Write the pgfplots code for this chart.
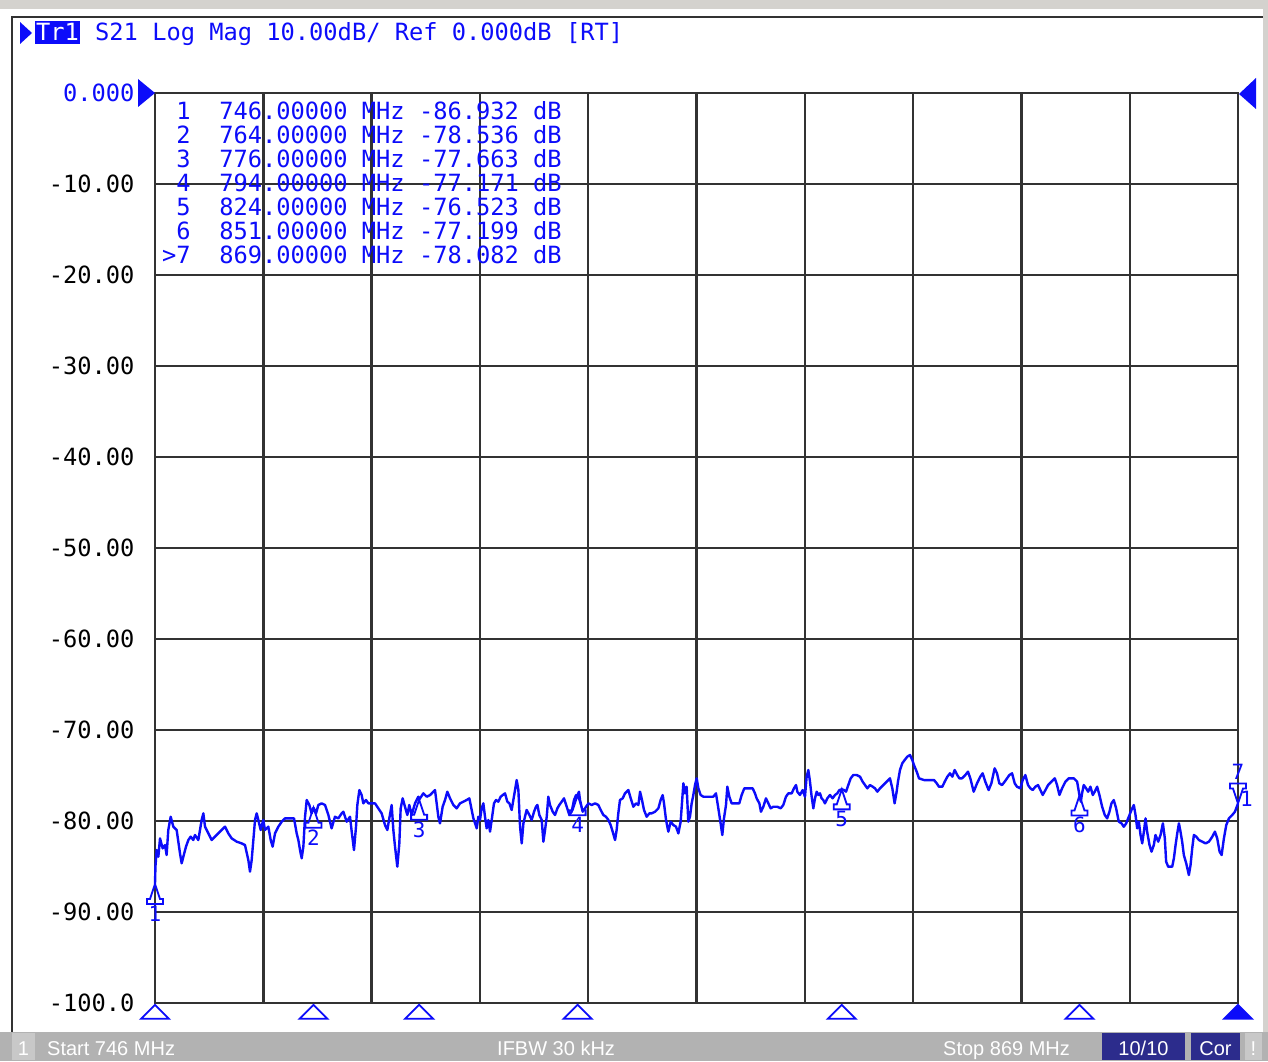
\documentclass[border=0pt]{standalone}
\usepackage{pgfplots}
\pgfplotsset{compat=1.18}
\usepackage{fontspec}
\setmainfont{Liberation Sans}
\newfontfamily\monofont{DejaVu Sans Mono}
\definecolor{trblue}{RGB}{12,12,250}
\definecolor{gridc}{RGB}{50,50,50}
\definecolor{barc}{RGB}{178,178,178}
\definecolor{barlight}{RGB}{200,200,200}
\definecolor{navy}{RGB}{44,44,140}
\definecolor{topgray}{RGB}{212,210,206}
\newcommand{\mfont}{\monofont\fontsize{23.7}{24}\selectfont}
\pgfdeclareplotmark{mkup}{%
  \pgfpathmoveto{\pgfqpoint{0pt}{0pt}}%
  \pgfpathlineto{\pgfqpoint{-5pt}{-15pt}}%
  \pgfpathlineto{\pgfqpoint{-8pt}{-15pt}}%
  \pgfpathlineto{\pgfqpoint{-8pt}{-20pt}}%
  \pgfpathlineto{\pgfqpoint{8pt}{-20pt}}%
  \pgfpathlineto{\pgfqpoint{8pt}{-15pt}}%
  \pgfpathlineto{\pgfqpoint{5pt}{-15pt}}%
  \pgfpathclose
  \pgfusepathqstroke}
\pgfdeclareplotmark{mkdown}{%
  \pgfpathmoveto{\pgfqpoint{0pt}{0pt}}%
  \pgfpathlineto{\pgfqpoint{-5pt}{15pt}}%
  \pgfpathlineto{\pgfqpoint{-8pt}{15pt}}%
  \pgfpathlineto{\pgfqpoint{-8pt}{20pt}}%
  \pgfpathlineto{\pgfqpoint{8pt}{20pt}}%
  \pgfpathlineto{\pgfqpoint{8pt}{15pt}}%
  \pgfpathlineto{\pgfqpoint{5pt}{15pt}}%
  \pgfpathclose
  \pgfusepathqstroke}
\pgfdeclareplotmark{stim}{%
  \pgfpathmoveto{\pgfqpoint{0pt}{0pt}}%
  \pgfpathlineto{\pgfqpoint{-14pt}{-14pt}}%
  \pgfpathlineto{\pgfqpoint{14pt}{-14pt}}%
  \pgfpathclose
  \pgfusepathqfillstroke}
\begin{document}
\begin{tikzpicture}
\useasboundingbox (0,0) rectangle (1268pt,1061pt);
\fill[white] (0,0) rectangle (1268pt,1061pt);
\fill[topgray] (0,1052pt) rectangle (1268pt,1061pt);
\fill[topgray] (1263pt,29pt) rectangle (1268pt,1061pt);
\draw[gridc, line width=2.5pt] (12pt,29pt) -- (12pt,1044pt) -- (1263pt,1044pt);
% status bar
\fill[barc] (0,0) rectangle (1268pt,29pt);
\fill[barlight] (12pt,1pt) rectangle (35pt,28pt);
\node[anchor=base, text=white, font=\fontsize{20}{20}\selectfont, inner sep=0pt] at (23.5pt,6pt) {1};
\node[anchor=base west, text=white, font=\fontsize{20}{20}\selectfont, inner sep=0pt] at (47pt,6pt) {Start 746 MHz};
\node[anchor=base west, text=white, font=\fontsize{20}{20}\selectfont, inner sep=0pt] at (497pt,6pt) {IFBW 30 kHz};
\node[anchor=base west, text=white, font=\fontsize{20}{20}\selectfont, inner sep=0pt] at (943pt,6pt) {Stop 869 MHz};
\fill[navy] (1102pt,1pt) rectangle (1185pt,28pt);
\node[anchor=base, text=white, font=\fontsize{20}{20}\selectfont, inner sep=0pt] at (1143.5pt,6pt) {10/10};
\fill[navy] (1191pt,1pt) rectangle (1240pt,28pt);
\node[anchor=base, text=white, font=\fontsize{20}{20}\selectfont, inner sep=0pt] at (1215.5pt,6pt) {Cor};
\fill[barlight] (1245pt,1pt) rectangle (1262pt,28pt);
\node[anchor=base, text=white, font=\fontsize{20}{20}\selectfont, inner sep=0pt] at (1253.5pt,6pt) {!};
% header
\fill[trblue] (20pt,1039pt) -- (20pt,1017pt) -- (32pt,1028pt) -- cycle;
\fill[trblue] (35pt,1017pt) rectangle (80pt,1040pt);
\node[anchor=base, text=white, font=\mfont, inner sep=0pt] at (57.5pt,1020pt) {Tr1};
\node[anchor=base west, text=trblue, font=\mfont, inner sep=0pt] at (95pt,1020pt) {S21 Log Mag 10.00dB/ Ref 0.000dB [RT]};

\begin{axis}[
  at={(155pt,58pt)}, anchor=south west,
  scale only axis, width=1083pt, height=910pt,
  xmin=746, xmax=869, ymin=-100, ymax=0,
  xtick={746,758.3,770.6,782.9,795.2,807.5,819.8,832.1,844.4,856.7,869},
  xticklabels={,,,,,,,,,,},
  ytick={-100,-90,-80,-70,-60,-50,-40,-30,-20,-10,0},
  yticklabels={-100.0,-90.00,-80.00,-70.00,-60.00,-50.00,-40.00,-30.00,-20.00,-10.00,\textcolor{trblue}{0.000}},
  yticklabel style={font=\mfont, text=black, anchor=east, xshift=-17pt},
  grid=major,
  major grid style={draw=gridc, line width=2.4pt},
  axis line style={draw=gridc, line width=2.4pt},
  tick style={draw=none},
  clip=false,
]
\addplot[trblue, line width=2.4pt, mark=none, line join=round] table[row sep=\\] {
x y \\
746.00 -86.93 \\ 746.05 -85.00 \\ 746.19 -83.19 \\ 746.38 -83.92 \\ 746.57 -81.91 \\
746.87 -83.01 \\ 747.14 -82.64 \\ 747.32 -83.74 \\ 747.51 -80.99 \\ 747.78 -79.53 \\
748.08 -80.62 \\ 748.46 -80.99 \\ 748.84 -83.56 \\ 749.03 -84.65 \\ 749.22 -83.92 \\
749.52 -82.82 \\ 749.79 -82.09 \\ 750.05 -81.72 \\ 750.35 -82.09 \\ 750.54 -81.54 \\
750.92 -82.09 \\ 751.30 -79.89 \\ 751.49 -79.16 \\ 751.68 -80.62 \\ 752.06 -81.36 \\
752.44 -82.09 \\ 752.81 -81.72 \\ 753.38 -81.17 \\ 753.95 -80.62 \\ 754.33 -81.36 \\
754.71 -81.91 \\ 755.28 -82.27 \\ 755.84 -82.46 \\ 756.22 -82.64 \\ 756.60 -84.29 \\
756.79 -85.57 \\ 756.98 -84.29 \\ 757.36 -79.89 \\ 757.55 -79.16 \\ 757.74 -79.89 \\
758.00 -80.99 \\ 758.30 -79.89 \\ 758.49 -80.99 \\ 758.87 -80.62 \\ 759.14 -82.09 \\
759.36 -82.82 \\ 759.63 -81.36 \\ 760.01 -80.62 \\ 760.39 -80.08 \\ 760.76 -79.71 \\
761.33 -79.71 \\ 761.79 -79.71 \\ 762.09 -81.36 \\ 762.28 -82.09 \\ 762.47 -83.19 \\
762.66 -84.10 \\ 762.85 -82.82 \\ 763.04 -79.53 \\ 763.23 -77.69 \\ 763.53 -78.24 \\
763.79 -79.16 \\ 764.00 -78.54 \\ 764.29 -79.16 \\ 764.55 -78.24 \\ 764.93 -78.06 \\
765.31 -78.24 \\ 765.69 -79.34 \\ 766.06 -80.81 \\ 766.44 -79.53 \\ 766.82 -79.71 \\
767.20 -79.16 \\ 767.39 -78.98 \\ 767.77 -80.08 \\ 768.15 -79.53 \\ 768.34 -81.17 \\
768.60 -83.19 \\ 768.83 -80.62 \\ 768.98 -78.24 \\ 769.21 -76.60 \\ 769.47 -77.15 \\
769.66 -78.06 \\ 769.96 -77.69 \\ 770.23 -78.06 \\ 770.61 -78.06 \\ 770.99 -78.06 \\
771.36 -78.61 \\ 771.74 -79.16 \\ 772.12 -80.44 \\ 772.39 -80.99 \\ 772.61 -79.71 \\
772.88 -78.24 \\ 773.07 -80.99 \\ 773.26 -82.82 \\ 773.52 -85.02 \\ 773.75 -82.46 \\
773.90 -78.61 \\ 774.13 -77.51 \\ 774.39 -78.43 \\ 774.66 -79.34 \\ 774.88 -78.24 \\
775.15 -79.34 \\ 775.53 -78.06 \\ 775.91 -77.33 \\ 776.00 -77.66 \\ 776.48 -76.96 \\
776.86 -77.33 \\ 777.24 -77.15 \\ 777.61 -76.78 \\ 777.80 -76.60 \\ 777.99 -78.06 \\
778.18 -79.53 \\ 778.37 -80.26 \\ 778.67 -78.43 \\ 778.94 -77.69 \\ 779.20 -76.78 \\
779.51 -77.51 \\ 779.89 -78.24 \\ 780.26 -78.61 \\ 780.64 -78.06 \\ 781.02 -77.88 \\
781.40 -77.69 \\ 781.70 -77.51 \\ 781.97 -78.79 \\ 782.16 -79.71 \\ 782.35 -80.26 \\
782.54 -80.81 \\ 782.72 -79.53 \\ 782.91 -79.89 \\ 783.10 -78.61 \\ 783.29 -78.06 \\
783.48 -79.53 \\ 783.67 -80.81 \\ 783.86 -79.89 \\ 784.05 -81.17 \\ 784.24 -79.89 \\
784.50 -78.06 \\ 784.73 -77.69 \\ 784.99 -77.88 \\ 785.26 -77.33 \\ 785.49 -77.15 \\
785.75 -76.96 \\ 786.02 -77.88 \\ 786.25 -78.06 \\ 786.51 -78.79 \\ 786.70 -77.69 \\
786.89 -76.60 \\ 787.08 -75.50 \\ 787.27 -76.60 \\ 787.46 -80.62 \\ 787.65 -82.46 \\
787.84 -80.26 \\ 788.02 -79.53 \\ 788.21 -78.79 \\ 788.52 -79.34 \\ 788.78 -79.89 \\
789.05 -78.98 \\ 789.27 -78.43 \\ 789.43 -78.24 \\ 789.65 -79.34 \\ 789.92 -79.89 \\
790.11 -82.27 \\ 790.30 -80.99 \\ 790.49 -79.53 \\ 790.67 -77.33 \\ 790.86 -78.24 \\
791.17 -78.98 \\ 791.43 -79.34 \\ 791.70 -78.61 \\ 791.92 -78.24 \\ 792.19 -77.88 \\
792.45 -77.51 \\ 792.76 -78.43 \\ 793.06 -79.34 \\ 793.32 -78.98 \\ 793.59 -77.69 \\
793.82 -77.15 \\ 794.00 -77.17 \\ 794.15 -76.78 \\ 794.27 -77.69 \\ 794.57 -78.98 \\
794.84 -78.61 \\ 795.22 -78.06 \\ 795.60 -78.24 \\ 795.98 -78.06 \\ 796.35 -78.24 \\
796.62 -78.79 \\ 796.92 -79.34 \\ 797.22 -79.53 \\ 797.49 -79.89 \\ 797.75 -80.44 \\
797.98 -81.17 \\ 798.25 -82.09 \\ 798.43 -80.99 \\ 798.62 -79.16 \\ 798.81 -77.69 \\
799.12 -77.51 \\ 799.38 -76.96 \\ 799.76 -76.60 \\ 800.03 -77.51 \\ 800.33 -78.43 \\
800.63 -78.06 \\ 800.90 -78.24 \\ 801.09 -76.78 \\ 801.27 -77.51 \\ 801.54 -78.79 \\
801.84 -79.53 \\ 802.15 -79.16 \\ 802.41 -79.16 \\ 802.79 -78.98 \\ 803.17 -78.61 \\
803.43 -77.69 \\ 803.66 -77.15 \\ 803.81 -78.06 \\ 804.04 -79.89 \\ 804.30 -81.17 \\
804.57 -80.08 \\ 804.87 -80.44 \\ 805.17 -80.62 \\ 805.44 -81.36 \\ 805.70 -80.08 \\
806.01 -75.86 \\ 806.20 -76.96 \\ 806.38 -76.23 \\ 806.57 -80.08 \\ 806.76 -79.53 \\
806.95 -78.06 \\ 807.14 -77.14 \\ 807.33 -76.05 \\ 807.52 -75.31 \\ 807.71 -76.41 \\
807.97 -77.14 \\ 808.27 -77.33 \\ 808.84 -77.33 \\ 809.41 -77.33 \\ 809.71 -76.96 \\
809.98 -78.61 \\ 810.24 -80.26 \\ 810.43 -81.54 \\ 810.62 -79.71 \\ 810.85 -78.24 \\
811.00 -76.23 \\ 811.23 -77.33 \\ 811.49 -78.06 \\ 811.87 -78.06 \\ 812.36 -78.06 \\
812.63 -77.14 \\ 812.93 -76.41 \\ 813.38 -76.41 \\ 813.88 -76.41 \\ 814.14 -76.96 \\
814.33 -77.51 \\ 814.64 -78.06 \\ 814.82 -78.98 \\ 815.09 -78.43 \\ 815.39 -77.51 \\
815.66 -78.06 \\ 815.92 -78.61 \\ 816.22 -78.43 \\ 816.68 -78.43 \\ 817.06 -78.61 \\
817.36 -78.24 \\ 817.66 -77.33 \\ 817.93 -76.96 \\ 818.31 -76.96 \\ 818.57 -76.41 \\
818.80 -76.05 \\ 818.95 -76.78 \\ 819.25 -77.14 \\ 819.56 -76.60 \\ 819.82 -77.33 \\
820.01 -75.13 \\ 820.20 -74.40 \\ 820.39 -75.68 \\ 820.58 -77.33 \\ 820.77 -78.61 \\
820.96 -77.51 \\ 821.15 -76.78 \\ 821.33 -77.14 \\ 821.52 -76.96 \\ 821.71 -77.51 \\
821.90 -77.70 \\ 822.09 -78.06 \\ 822.36 -77.51 \\ 822.66 -77.14 \\ 822.96 -77.51 \\
823.23 -77.14 \\ 823.49 -76.96 \\ 823.72 -76.60 \\ 824.00 -76.52 \\ 824.25 -76.60 \\
824.48 -76.78 \\ 824.74 -76.05 \\ 825.01 -75.31 \\ 825.31 -74.95 \\ 825.69 -74.95 \\
826.07 -75.13 \\ 826.37 -75.68 \\ 826.64 -76.05 \\ 826.90 -76.41 \\ 827.20 -76.05 \\
827.51 -76.23 \\ 827.77 -76.41 \\ 828.04 -76.78 \\ 828.34 -76.41 \\ 828.72 -76.05 \\
829.10 -75.68 \\ 829.47 -75.31 \\ 829.74 -76.41 \\ 830.00 -78.06 \\ 830.23 -76.78 \\
830.38 -75.68 \\ 830.61 -74.40 \\ 830.87 -73.66 \\ 831.14 -73.30 \\ 831.44 -72.93 \\
831.75 -72.75 \\ 832.01 -73.30 \\ 832.20 -73.85 \\ 832.51 -74.58 \\ 832.77 -75.31 \\
833.34 -75.50 \\ 833.91 -75.50 \\ 834.48 -75.50 \\ 834.78 -75.86 \\ 835.04 -76.23 \\
835.42 -76.23 \\ 835.69 -75.68 \\ 835.99 -75.13 \\ 836.29 -74.76 \\ 836.56 -75.13 \\
836.82 -74.40 \\ 837.12 -74.95 \\ 837.35 -75.31 \\ 837.65 -75.31 \\ 838.03 -74.95 \\
838.33 -74.58 \\ 838.60 -75.31 \\ 838.98 -76.78 \\ 839.36 -75.86 \\ 839.73 -75.13 \\
840.00 -74.76 \\ 840.30 -75.68 \\ 840.68 -76.60 \\ 840.99 -75.86 \\ 841.36 -74.21 \\
841.63 -74.76 \\ 841.89 -75.86 \\ 842.20 -76.05 \\ 842.50 -75.68 \\ 842.77 -75.31 \\
843.03 -74.95 \\ 843.34 -74.76 \\ 843.64 -75.86 \\ 843.90 -76.23 \\ 844.28 -76.41 \\
844.55 -75.50 \\ 844.85 -74.95 \\ 845.15 -76.05 \\ 845.42 -76.41 \\ 845.68 -76.60 \\
845.99 -76.23 \\ 846.29 -76.05 \\ 846.56 -76.60 \\ 846.82 -77.14 \\ 847.13 -76.60 \\
847.43 -76.05 \\ 847.81 -75.68 \\ 848.19 -75.31 \\ 848.45 -76.05 \\ 848.72 -77.14 \\
849.02 -76.41 \\ 849.40 -75.68 \\ 849.78 -75.31 \\ 850.35 -75.31 \\ 850.73 -75.68 \\
851.00 -77.20 \\ 851.15 -77.88 \\ 851.29 -76.96 \\ 851.48 -76.05 \\ 851.75 -76.41 \\
851.98 -76.78 \\ 852.24 -76.23 \\ 852.51 -77.14 \\ 852.73 -76.78 \\ 853.00 -76.23 \\
853.26 -77.14 \\ 853.57 -78.43 \\ 853.87 -79.34 \\ 854.14 -79.71 \\ 854.40 -78.98 \\
854.63 -78.06 \\ 854.89 -77.70 \\ 855.16 -78.61 \\ 855.46 -80.07 \\ 855.77 -80.26 \\
856.03 -80.63 \\ 856.30 -80.26 \\ 856.60 -79.53 \\ 856.90 -78.79 \\ 857.17 -78.24 \\
857.36 -79.34 \\ 857.55 -80.81 \\ 857.74 -80.07 \\ 857.93 -81.54 \\ 858.12 -82.46 \\
858.31 -81.17 \\ 858.50 -79.71 \\ 858.68 -81.17 \\ 858.95 -82.64 \\ 859.18 -83.37 \\
859.44 -82.64 \\ 859.63 -81.54 \\ 859.94 -82.27 \\ 860.20 -81.54 \\ 860.47 -80.26 \\
860.69 -81.91 \\ 860.84 -84.47 \\ 861.07 -85.02 \\ 861.34 -85.02 \\ 861.53 -85.02 \\
861.72 -84.10 \\ 861.91 -82.64 \\ 862.10 -81.36 \\ 862.29 -80.26 \\ 862.47 -81.17 \\
862.66 -82.27 \\ 862.85 -83.74 \\ 863.12 -84.65 \\ 863.42 -85.94 \\ 863.61 -84.84 \\
863.80 -83.01 \\ 863.99 -81.54 \\ 864.26 -81.72 \\ 864.56 -82.09 \\ 864.94 -82.27 \\
865.32 -82.46 \\ 865.70 -82.27 \\ 866.08 -81.72 \\ 866.38 -81.17 \\ 866.64 -81.91 \\
866.91 -83.37 \\ 867.14 -83.74 \\ 867.40 -81.91 \\ 867.67 -80.44 \\ 867.97 -79.71 \\
868.35 -79.34 \\ 868.65 -78.98 \\ 869.00 -78.08 \\
};
% data markers 1-6
\addplot[only marks, mark=mkup, mark options={draw=trblue, line width=1.8pt, solid},
  nodes near coords, point meta=explicit symbolic,
  every node near coord/.append style={anchor=north, yshift=-21pt, font=\monofont\fontsize{21}{21}\selectfont, text=trblue, inner sep=0pt}]
  table[row sep=\\, meta=label] {
x y label \\
746 -86.932 1 \\
764 -78.536 2 \\
776 -77.663 3 \\
794 -77.171 4 \\
824 -76.523 5 \\
851 -77.199 6 \\
};
% active marker 7
\addplot[only marks, mark=mkdown, mark options={draw=trblue, line width=1.8pt, solid},
  nodes near coords={7},
  every node near coord/.append style={anchor=south, yshift=23pt, font=\monofont\fontsize{21}{21}\selectfont, text=trblue, inner sep=0pt}]
  coordinates {(869,-78.082)};
% stimulus markers below axis
\addplot[only marks, mark=stim, mark options={draw=trblue, fill=white, line width=1.8pt, solid}]
  coordinates {(746,-100.2) (764,-100.2) (776,-100.2) (794,-100.2) (824,-100.2) (851,-100.2)};
\addplot[only marks, mark=stim, mark options={draw=trblue, fill=trblue, line width=1.8pt, solid}]
  coordinates {(869,-100.2)};
\end{axis}
% reference level arrows
\fill[trblue] (138pt,982pt) -- (138pt,954pt) -- (155pt,968pt) -- cycle;
\fill[trblue] (1256pt,983pt) -- (1256pt,952pt) -- (1239pt,967pt) -- cycle;
\node[anchor=base west, text=trblue, font=\monofont\fontsize{21}{21}\selectfont, inner sep=0pt] at (1240pt,255pt) {1};
% marker table
\foreach \n/\f/\v [count=\i from 0] in {{\phantom{>}1}/746/-86.932,{\phantom{>}2}/764/-78.536,{\phantom{>}3}/776/-77.663,{\phantom{>}4}/794/-77.171,{\phantom{>}5}/824/-76.523,{\phantom{>}6}/851/-77.199,{>7}/869/-78.082}{
  \pgfmathsetmacro\yy{941-24*\i}
  \node[anchor=base west, text=trblue, font=\mfont, inner sep=0pt] at (162pt,\yy pt) {\n\ \ \f.00000 MHz \v\ dB};
}
\end{tikzpicture}
\end{document}
